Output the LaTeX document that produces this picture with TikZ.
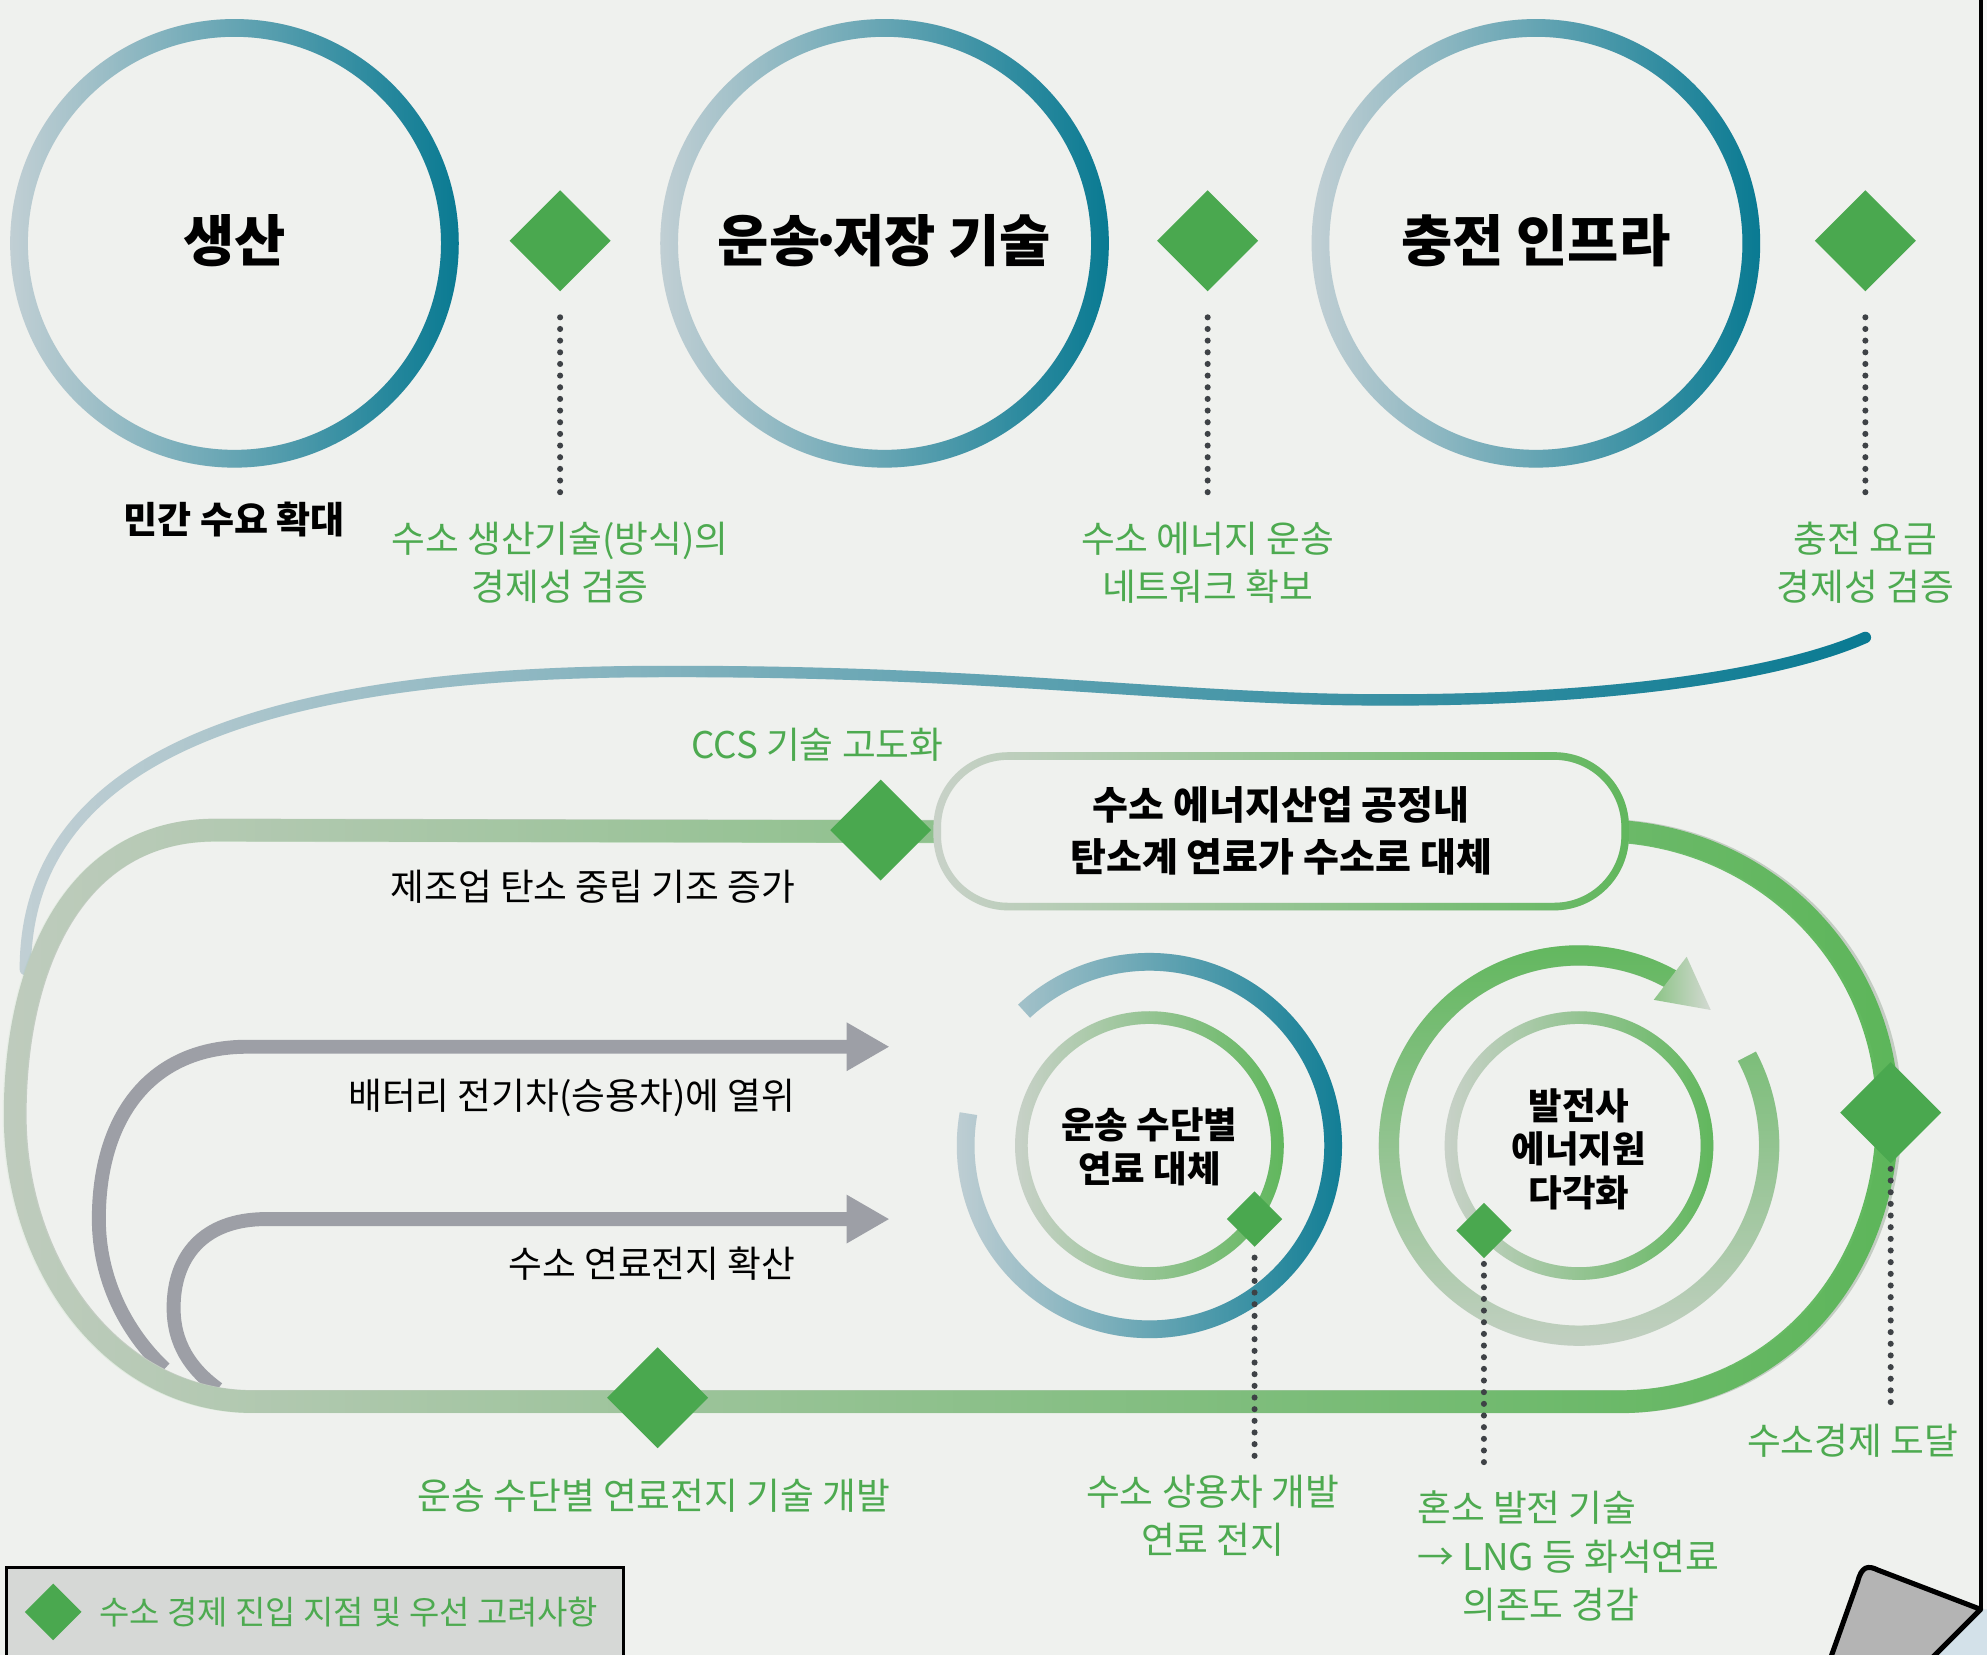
\documentclass[tikz,border=0pt]{standalone}
\usepackage{fontspec}
\setmainfont{Noto Sans CJK KR}
\usetikzlibrary{shapes.geometric,arrows.meta,fadings}

\definecolor{paper}{RGB}{239,241,238}
\definecolor{edgewhite}{RGB}{246,247,246}
\definecolor{gemgreen}{RGB}{74,168,79}
\definecolor{txtgreen}{RGB}{77,170,80}
\definecolor{teal}{RGB}{0,118,143}
\definecolor{bluelight}{RGB}{203,212,216}
\definecolor{greenlight}{RGB}{206,211,206}
\definecolor{ringgreen}{RGB}{92,182,88}
\definecolor{roadlight}{RGB}{196,205,195}
\definecolor{roadgreen}{RGB}{88,181,85}
\definecolor{arrowgray}{RGB}{157,159,166}
\definecolor{dotgray}{RGB}{62,66,70}
\definecolor{legendgray}{RGB}{214,216,214}
\definecolor{curlgray}{RGB}{180,180,180}
\definecolor{under}{RGB}{211,225,233}
\definecolor{headgreen}{RGB}{140,196,134}
\definecolor{headlight}{RGB}{212,217,211}

\tikzfading[name=toright, left color=transparent!100, right color=transparent!0]
\tikzfading[name=todown, top color=transparent!0, bottom color=transparent!100]

\tikzset{
  gem/.style={diamond, fill=gemgreen, inner sep=0pt, minimum width=#1, minimum height=#1},
  gem/.default=40pt,
  hgrad/.style 2 args={draw=#1, postaction={draw=#2, path fading=toright, fading transform={xscale=1.1, yscale=1.3}}},
  vgrad/.style 2 args={draw=#1, postaction={draw=#2, path fading=todown, fading transform={xscale=1.3, yscale=1.1}}},
  dotline/.style={draw=dotgray, line width=2.4pt, line cap=round, dash pattern=on 0pt off 4.6pt},
  title/.style={font=\bfseries\fontsize{22}{26}\selectfont, inner sep=0pt},
  lbl/.style={text=txtgreen, font=\fontsize{14.5}{19}\selectfont, align=center, inner sep=0pt},
  plain/.style={font=\fontsize{14.5}{19}\selectfont, inner sep=0pt},
  ctext/.style={font=\bfseries\fontsize{14.4}{17}\selectfont, align=center, inner sep=0pt},
  flow/.style={draw=arrowgray, line width=5.5pt, -{Triangle[length=17pt, width=18pt]}},
  pill/.style={minimum width=271pt, minimum height=59pt, inner sep=0pt},
}

\begin{document}
\begin{tikzpicture}[x=0.5pt, y=-0.5pt]
  \useasboundingbox (0,0) rectangle (1568,1306);
  \fill[paper] (0,0) rectangle (1568,1306);
  \fill[edgewhite] (1563,0) rectangle (1568,1306);

  % top row: three stages
  \foreach \n/\x/\t in {prod/185/생산, move/698/{운송\kern-.19em·\kern-.19em저장 기술}, chg/1212/충전 인프라} {
    \path[hgrad={bluelight}{teal}, line width=7pt] (\x,192) circle[radius=170];
    \node[title] (\n) at (\x,190) {\t};
  }
  \foreach \n/\x in {g1/442, g2/953, g3/1472} {\node[gem] (\n) at (\x,190) {};}
  \node[title, font=\bfseries\fontsize{14.6}{19}\selectfont] (demand) at (185,410) {민간 수요 확대};
  \node[lbl] (l1) at (442,444) {수소 생산기술(방식)의\\경제성 검증};
  \node[lbl] (l2) at (953,444) {수소 에너지 운송\\네트워크 확보};
  \node[lbl] (l3) at (1472,444) {충전 요금\\경제성 검증};
  \foreach \g/\l in {g1/l1, g2/l2, g3/l3} {\draw[dotline, shorten <=10pt, shorten >=10pt] (\g.south) -- (\g.south |- \l.north);}

  % blue sweep
  \path[hgrad={bluelight}{teal}, line width=4.5pt, line cap=round] (1472,503) .. controls (1400,535) and (1250,555) .. (1060,552)
    .. controls (900,549) and (760,528) .. (500,530) .. controls (200,533) and (20,600) .. (20,765);

  % gray arrows
  \draw[flow] (130,1080) .. controls (100,1052) and (78,1010) .. (78,962) .. controls (78,880) and (120,826) .. (195,826) -- (702,826);
  \draw[flow] (172,1096) .. controls (150,1080) and (137,1060) .. (137,1032) .. controls (137,992) and (160,962) .. (210,962) -- (702,962);

  % green road
  \node[pill] (box) at (1011,656) {};
  \path[hgrad={roadlight}{roadgreen}, line width=9pt] (box.east) .. controls (1400,665) and (1492,760) .. (1492,878)
    .. controls (1492,1010) and (1400,1106) .. (1280,1106) -- (200,1106) .. controls (90,1106) and (12,1000) .. (12,880)
    .. controls (12,760) and (60,655) .. (170,655) -- (box.west);
  \path[hgrad={greenlight}{ringgreen}, line width=3pt, fill=paper, rounded corners=28pt] (box.south west) rectangle (box.north east);
  \node[font=\bfseries\fontsize{15.4}{20.5}\selectfont, align=center, inner sep=0pt] (boxtext) at (box) {수소 에너지산업 공정내\\탄소계 연료가 수소로 대체};

  \node[gem] (gt) at (695,655) {};
  \node[gem] (gbot) at (519,1103) {};
  \node[gem] (gr) at (1492,878) {};
  \node[lbl] (ccs) at (645,588) {CCS 기술 고도화};
  \node[plain, anchor=east] (mfg) at (628,700) {제조업 탄소 중립 기조 증가};
  \node[plain, anchor=east] (bev) at (628,866) {배터리 전기차(승용차)에 열위};
  \node[plain, anchor=east] (fcx) at (628,997) {수소 연료전지 확산};
  \node[lbl] (fcdev) at (516,1180) {운송 수단별 연료전지 기술 개발};

  % circle A
  \coordinate (ca) at (907,904);
  \path[hgrad={bluelight}{teal}, line width=7pt] (ca) ++(-133:145) arc[start angle=-133, end angle=190, radius=145];
  \path[hgrad={greenlight}{ringgreen}, line width=5pt] (ca) circle[radius=101];
  \node[ctext] (fuel) at (907,905) {운송 수단별\\연료 대체};
  \node[gem=22pt] (ga) at (990,962) {};

  % circle B
  \coordinate (cb) at (1246,904);
  \path[vgrad={greenlight}{ringgreen}, line width=8pt] (cb) ++(-28:150) arc[start angle=-28, end angle=299, radius=150];
  \shade[left color=headgreen, right color=headlight] (1331,755) -- (1350,797) -- (1305,789) -- cycle;
  \path[hgrad={greenlight}{ringgreen}, line width=5pt] (cb) circle[radius=101];
  \node[ctext] (power) at (1246,907) {발전사\\에너지원\\다각화};
  \node[gem=22pt] (gb) at (1171,971) {};

  % lower labels
  \node[lbl] (la) at (957,1196) {수소 상용차 개발\\연료 전지};
  \node[lbl, align=left, anchor=west] (lb) at (1118,1228) {혼소 발전 기술\\→ LNG 등 화석연료\\\phantom{→ }의존도 경감};
  \node[lbl] (goal) at (1462,1137) {수소경제 도달};
  \draw[dotline, shorten <=4pt, shorten >=7pt] (ga.south) -- (ga.south |- la.north);
  \draw[dotline, shorten <=2pt, shorten >=10pt] (gb.south) -- (gb.south |- lb.north);
  \draw[dotline, shorten <=2pt, shorten >=7pt] (gr.south) -- (gr.south |- goal.north);

  % legend
  \draw[fill=legendgray, line width=1.2pt] (5,1237) rectangle (492,1320);
  \node[gem=22.5pt] (key) at (42,1272) {};
  \node[lbl, anchor=west, font=\fontsize{13}{16}\selectfont] (keytext) at (78,1272) {수소 경제 진입 지점 및 우선 고려사항};

  % page edge and curl
  \draw[line width=1.5pt] (1563,-5) -- (1563,1270);
  \fill[under] (1563,1270) -- (1570,1270) -- (1570,1310) -- (1523,1310) -- cycle;
  \filldraw[fill=curlgray, line width=2pt, line join=round] (1444,1310) -- (1466,1248) .. controls (1469,1236) and (1474,1235) .. (1482,1239) -- (1563,1270) -- (1523,1310);
\end{tikzpicture}
\end{document}
